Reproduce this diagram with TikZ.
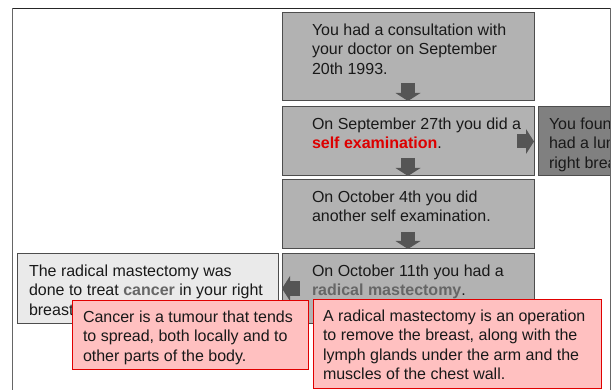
\documentclass[tikz,border=0pt]{standalone}
\usepackage{fontspec}
\setmainfont{Liberation Sans}
\usetikzlibrary{arrows.meta}
\definecolor{stepgray}{HTML}{B2B2B2}
\definecolor{darkbox}{HTML}{808080}
\definecolor{lightbox}{HTML}{EAEAEA}
\definecolor{edgegray}{HTML}{4D4D4D}
\definecolor{arrowgray}{HTML}{555555}
\definecolor{notepink}{HTML}{FFC0C0}
\definecolor{notered}{HTML}{E00000}
\definecolor{keyred}{HTML}{DD0000}
\definecolor{keygray}{HTML}{666666}
\begin{document}
\begin{tikzpicture}[x=1pt,y=-1pt,
  every node/.style={inner sep=0pt,outer sep=0pt},
  box/.style={draw=edgegray,line width=1pt,fill=stepgray,anchor=north west},
  note/.style={draw=notered,line width=1pt,fill=notepink,anchor=north west},
  txt/.style={anchor=north west,align=left,font=\fontsize{16}{19.3}\selectfont,text=black!90},
  fat/.style={draw=arrowgray,line width=14pt,-{Triangle[width=25pt,length=8pt,line width=0pt]}}]
  \useasboundingbox (0,0) rectangle (616,390);
  % the steps
  \foreach \n/\y/\h in {s1/13/88,s2/107/69,s3/180/69,s4/254/69}
    \node[box,minimum width=252pt,minimum height=\h pt] (\n) at (282,\y) {};
  \node[txt] (t1) at ([shift={(30pt,-11pt)}]s1.north west) {You had a consultation with\\your doctor on September\\20th 1993.};
  \node[txt] (t2) at ([shift={(30pt,-11pt)}]s2.north west) {On September 27th you did a\\\textcolor{keyred}{\textbf{self examination}}.};
  \node[txt] (t3) at ([shift={(30pt,-11pt)}]s3.north west) {On October 4th you did\\another self examination.};
  \node[txt] (t4) at ([shift={(30pt,-11pt)}]s4.north west) {On October 11th you had a\\\textcolor{keygray}{\textbf{radical mastectomy}}.};
  % side boxes
  \begin{scope}
    \clip (12,0) rectangle (610,390);
    \node[box,fill=darkbox,minimum width=120pt,minimum height=69pt] (found) at (538,107) {};
    \node[txt] (tf) at ([shift={(11pt,-11pt)}]found.north west) {You found you\\had a lump in your\\right breast.};
  \end{scope}
  \node[box,fill=lightbox,minimum width=261pt,minimum height=69pt] (why) at (17,254) {};
  \node[txt] (tw) at ([shift={(12pt,-11pt)}]why.north west) {The radical mastectomy was\\done to treat \textcolor{keygray}{\textbf{cancer}} in your right\\breast.};
  % arrows
  \foreach \n/\d in {s1/18,s2/18,s3/17}
    \draw[fat] ([yshift=\d pt]\n.south) -- (\n.south);
  \draw[fat] ([xshift=-17pt]s2.east) -- (s2.east);
  \draw[fat] ([xshift=18pt]s4.west) -- (s4.west);
  % notes
  \node[note,minimum width=236pt,minimum height=69pt] (cancer) at (72,300) {};
  \node[txt] (tc) at ([shift={(11pt,-11pt)}]cancer.north west) {Cancer is a tumour that tends\\to spread, both locally and to\\other parts of the body.};
  \node[note,minimum width=288pt,minimum height=89pt] (mast) at (313,299) {};
  \node[txt] (tm) at ([shift={(10pt,-11pt)}]mast.north west) {A radical mastectomy is an operation\\to remove the breast, along with the\\lymph glands under the arm and the\\muscles of the chest wall.};
  % frame
  \draw[black!85] (12,8) -- (610,8);
  \draw[black!60] (12,390) -- (12,8) (610,8) -- (610,390);
\end{tikzpicture}
\end{document}
